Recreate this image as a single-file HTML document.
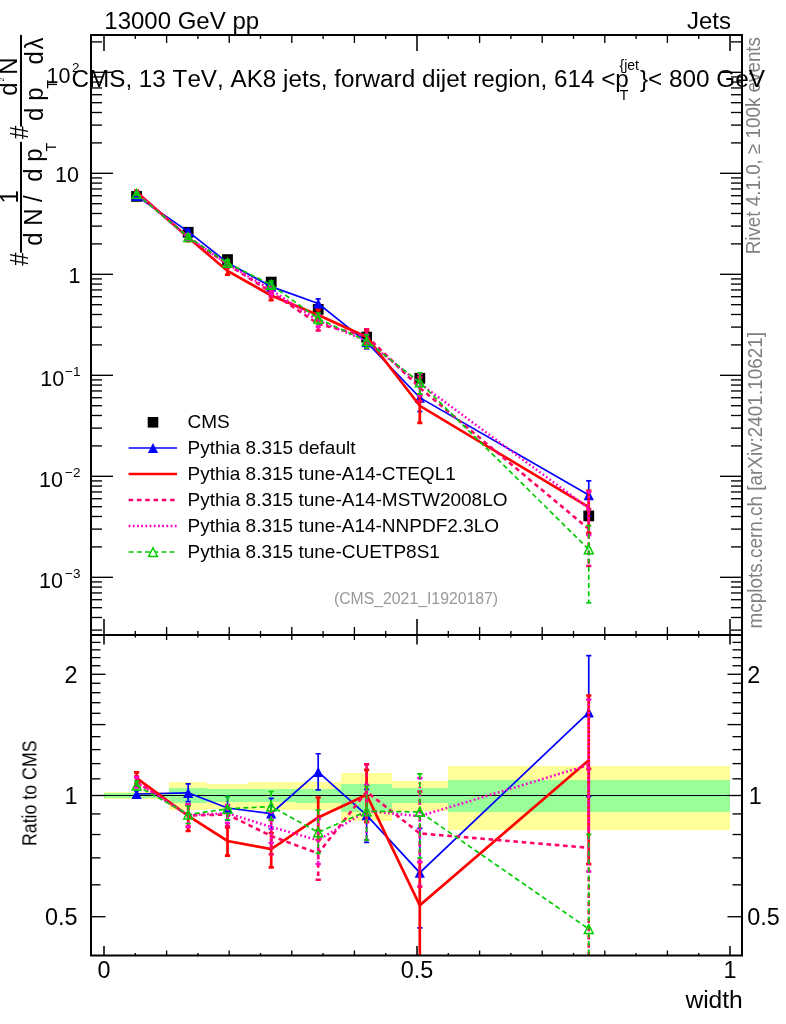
<!DOCTYPE html>
<html><head><meta charset="utf-8"><title>plot</title><style>html,body{margin:0;padding:0;background:#fff}svg{display:block}</style></head><body>
<svg width="786" height="1024" viewBox="0 0 786 1024" font-family="Liberation Sans, sans-serif" style="font-kerning:none">
<defs><clipPath id="c1"><rect x="91" y="35" width="651" height="600"/></clipPath><clipPath id="c2"><rect x="91" y="635" width="651" height="320.5"/></clipPath></defs>
<rect width="786" height="1024" fill="#fff"/>
<g opacity="0.999">
<g clip-path="url(#c2)" shape-rendering="crispEdges">
<rect x="104.00" y="791.60" width="64.80" height="7.50" fill="#ffff99"/>
<rect x="168.80" y="782.30" width="38.20" height="28.00" fill="#ffff99"/>
<rect x="207.00" y="783.60" width="41.00" height="25.20" fill="#ffff99"/>
<rect x="248.00" y="782.30" width="46.50" height="27.20" fill="#ffff99"/>
<rect x="294.50" y="782.30" width="46.50" height="27.40" fill="#ffff99"/>
<rect x="341.00" y="772.60" width="51.00" height="48.70" fill="#ffff99"/>
<rect x="392.00" y="781.20" width="55.70" height="29.60" fill="#ffff99"/>
<rect x="447.70" y="766.20" width="282.30" height="63.50" fill="#ffff99"/>
<rect x="104.00" y="793.20" width="64.80" height="4.60" fill="#99ff99"/>
<rect x="168.80" y="788.40" width="38.20" height="14.80" fill="#99ff99"/>
<rect x="207.00" y="789.20" width="41.00" height="13.20" fill="#99ff99"/>
<rect x="248.00" y="789.20" width="46.50" height="13.20" fill="#99ff99"/>
<rect x="294.50" y="788.60" width="46.50" height="14.10" fill="#99ff99"/>
<rect x="341.00" y="784.00" width="51.00" height="27.90" fill="#99ff99"/>
<rect x="392.00" y="787.70" width="55.70" height="15.60" fill="#99ff99"/>
<rect x="447.70" y="780.40" width="282.30" height="31.50" fill="#99ff99"/>
</g>
<line x1="91" y1="795.5" x2="742" y2="795.5" stroke="#000" stroke-width="1.1"/>
<g clip-path="url(#c1)">
<rect x="131.20" y="191.00" width="10.80" height="10.80" fill="#000"/>
<rect x="182.80" y="226.90" width="10.80" height="10.80" fill="#000"/>
<rect x="222.10" y="254.20" width="10.80" height="10.80" fill="#000"/>
<rect x="265.80" y="276.70" width="10.80" height="10.80" fill="#000"/>
<rect x="312.80" y="304.00" width="10.80" height="10.80" fill="#000"/>
<rect x="361.20" y="331.70" width="10.80" height="10.80" fill="#000"/>
<rect x="414.40" y="372.90" width="10.80" height="10.80" fill="#000"/>
<rect x="583.35" y="510.50" width="10.80" height="10.80" fill="#000"/>
</g>
<g clip-path="url(#c1)" fill="none" stroke="#0000ff" stroke-width="1.7">
<polyline points="136.60,196.02 188.20,231.62 227.50,262.74 271.20,286.61 318.20,303.48 366.60,342.04 419.80,397.66 588.75,495.03" stroke-linejoin="miter"/>
<line x1="136.60" y1="195.27" x2="136.60" y2="196.78"/>
<line x1="134.00" y1="195.27" x2="139.20" y2="195.27"/>
<line x1="134.00" y1="196.78" x2="139.20" y2="196.78"/>
<line x1="188.20" y1="229.39" x2="188.20" y2="233.86"/>
<line x1="185.60" y1="229.39" x2="190.80" y2="229.39"/>
<line x1="185.60" y1="233.86" x2="190.80" y2="233.86"/>
<line x1="227.50" y1="259.83" x2="227.50" y2="265.79"/>
<line x1="224.90" y1="259.83" x2="230.10" y2="259.83"/>
<line x1="224.90" y1="265.79" x2="230.10" y2="265.79"/>
<line x1="271.20" y1="282.80" x2="271.20" y2="290.50"/>
<line x1="268.60" y1="282.80" x2="273.80" y2="282.80"/>
<line x1="268.60" y1="290.50" x2="273.80" y2="290.50"/>
<line x1="318.20" y1="298.93" x2="318.20" y2="307.97"/>
<line x1="315.60" y1="298.93" x2="320.80" y2="298.93"/>
<line x1="315.60" y1="307.97" x2="320.80" y2="307.97"/>
<line x1="366.60" y1="335.57" x2="366.60" y2="348.89"/>
<line x1="364.00" y1="335.57" x2="369.20" y2="335.57"/>
<line x1="364.00" y1="348.89" x2="369.20" y2="348.89"/>
<line x1="419.80" y1="386.55" x2="419.80" y2="411.48"/>
<line x1="417.20" y1="386.55" x2="422.40" y2="386.55"/>
<line x1="417.20" y1="411.48" x2="422.40" y2="411.48"/>
<line x1="588.75" y1="480.81" x2="588.75" y2="516.20"/>
<line x1="586.15" y1="480.81" x2="591.35" y2="480.81"/>
<line x1="586.15" y1="516.20" x2="591.35" y2="516.20"/>
</g>
<g clip-path="url(#c1)">
<polygon points="131.50,201.12 141.70,201.12 136.60,190.92" fill="#0000ff"/>
<polygon points="183.10,236.72 193.30,236.72 188.20,226.52" fill="#0000ff"/>
<polygon points="222.40,267.84 232.60,267.84 227.50,257.64" fill="#0000ff"/>
<polygon points="266.10,291.71 276.30,291.71 271.20,281.51" fill="#0000ff"/>
<polygon points="313.10,308.58 323.30,308.58 318.20,298.38" fill="#0000ff"/>
<polygon points="361.50,347.14 371.70,347.14 366.60,336.94" fill="#0000ff"/>
<polygon points="414.70,402.76 424.90,402.76 419.80,392.56" fill="#0000ff"/>
<polygon points="583.65,500.13 593.85,500.13 588.75,489.93" fill="#0000ff"/>
</g>
<g clip-path="url(#c1)" fill="none" stroke="#ff0000" stroke-width="2.7">
<polyline points="136.60,192.06 188.20,237.39 227.50,271.01 271.20,295.54 318.20,314.92 366.60,336.92 419.80,405.84 588.75,507.07" stroke-linejoin="miter"/>
<line x1="136.60" y1="190.61" x2="136.60" y2="193.57"/>
<line x1="134.00" y1="190.61" x2="139.20" y2="190.61"/>
<line x1="134.00" y1="193.57" x2="139.20" y2="193.57"/>
<line x1="188.20" y1="234.56" x2="188.20" y2="241.20"/>
<line x1="185.60" y1="234.56" x2="190.80" y2="234.56"/>
<line x1="185.60" y1="241.20" x2="190.80" y2="241.20"/>
<line x1="227.50" y1="267.63" x2="227.50" y2="274.70"/>
<line x1="224.90" y1="267.63" x2="230.10" y2="267.63"/>
<line x1="224.90" y1="274.70" x2="230.10" y2="274.70"/>
<line x1="271.20" y1="291.51" x2="271.20" y2="300.13"/>
<line x1="268.60" y1="291.51" x2="273.80" y2="291.51"/>
<line x1="268.60" y1="300.13" x2="273.80" y2="300.13"/>
<line x1="318.20" y1="309.90" x2="318.20" y2="320.56"/>
<line x1="315.60" y1="309.90" x2="320.80" y2="309.90"/>
<line x1="315.60" y1="320.56" x2="320.80" y2="320.56"/>
<line x1="366.60" y1="330.65" x2="366.60" y2="343.75"/>
<line x1="364.00" y1="330.65" x2="369.20" y2="330.65"/>
<line x1="364.00" y1="343.75" x2="369.20" y2="343.75"/>
<line x1="419.80" y1="394.98" x2="419.80" y2="422.89"/>
<line x1="417.20" y1="394.98" x2="422.40" y2="394.98"/>
<line x1="417.20" y1="422.89" x2="422.40" y2="422.89"/>
<line x1="588.75" y1="490.82" x2="588.75" y2="533.13"/>
<line x1="586.15" y1="490.82" x2="591.35" y2="490.82"/>
<line x1="586.15" y1="533.13" x2="591.35" y2="533.13"/>
</g>
<g clip-path="url(#c1)" fill="none" stroke="#ff0066" stroke-width="2.6">
<polyline points="136.60,192.89 188.20,237.32 227.50,264.37 271.20,292.26 318.20,323.92 366.60,336.15 419.80,387.81 588.75,529.02" stroke-dasharray="4.6 3.7" stroke-linejoin="miter"/>
<line x1="136.60" y1="191.63" x2="136.60" y2="194.14" stroke-dasharray="4.6 3.7"/>
<line x1="134.00" y1="191.63" x2="139.20" y2="191.63"/>
<line x1="134.00" y1="194.14" x2="139.20" y2="194.14"/>
<line x1="188.20" y1="234.68" x2="188.20" y2="240.20" stroke-dasharray="4.6 3.7"/>
<line x1="185.60" y1="234.68" x2="190.80" y2="234.68"/>
<line x1="185.60" y1="240.20" x2="190.80" y2="240.20"/>
<line x1="227.50" y1="262.11" x2="227.50" y2="267.35" stroke-dasharray="4.6 3.7"/>
<line x1="224.90" y1="262.11" x2="230.10" y2="262.11"/>
<line x1="224.90" y1="267.35" x2="230.10" y2="267.35"/>
<line x1="271.20" y1="288.24" x2="271.20" y2="296.82" stroke-dasharray="4.6 3.7"/>
<line x1="268.60" y1="288.24" x2="273.80" y2="288.24"/>
<line x1="268.60" y1="296.82" x2="273.80" y2="296.82"/>
<line x1="318.20" y1="318.05" x2="318.20" y2="330.52" stroke-dasharray="4.6 3.7"/>
<line x1="315.60" y1="318.05" x2="320.80" y2="318.05"/>
<line x1="315.60" y1="330.52" x2="320.80" y2="330.52"/>
<line x1="366.60" y1="329.30" x2="366.60" y2="343.75" stroke-dasharray="4.6 3.7"/>
<line x1="364.00" y1="329.30" x2="369.20" y2="329.30"/>
<line x1="364.00" y1="343.75" x2="369.20" y2="343.75"/>
<line x1="419.80" y1="377.30" x2="419.80" y2="401.15" stroke-dasharray="4.6 3.7"/>
<line x1="417.20" y1="377.30" x2="422.40" y2="377.30"/>
<line x1="417.20" y1="401.15" x2="422.40" y2="401.15"/>
<line x1="588.75" y1="509.23" x2="588.75" y2="565.94" stroke-dasharray="4.6 3.7"/>
<line x1="586.15" y1="509.23" x2="591.35" y2="509.23"/>
<line x1="586.15" y1="565.94" x2="591.35" y2="565.94"/>
</g>
<g clip-path="url(#c1)" fill="none" stroke="#ff00cc" stroke-width="2.5">
<polyline points="136.60,193.14 188.20,237.19 227.50,264.04 271.20,290.00 318.20,320.61 366.60,340.99 419.80,383.49 588.75,508.25" stroke-dasharray="1.8 2.4" stroke-linejoin="miter"/>
<line x1="136.60" y1="191.89" x2="136.60" y2="194.39" stroke-dasharray="1.8 2.4"/>
<line x1="134.00" y1="191.89" x2="139.20" y2="191.89"/>
<line x1="134.00" y1="194.39" x2="139.20" y2="194.39"/>
<line x1="188.20" y1="234.56" x2="188.20" y2="240.08" stroke-dasharray="1.8 2.4"/>
<line x1="185.60" y1="234.56" x2="190.80" y2="234.56"/>
<line x1="185.60" y1="240.08" x2="190.80" y2="240.08"/>
<line x1="227.50" y1="261.98" x2="227.50" y2="266.50" stroke-dasharray="1.8 2.4"/>
<line x1="224.90" y1="261.98" x2="230.10" y2="261.98"/>
<line x1="224.90" y1="266.50" x2="230.10" y2="266.50"/>
<line x1="271.20" y1="286.24" x2="271.20" y2="294.01" stroke-dasharray="1.8 2.4"/>
<line x1="268.60" y1="286.24" x2="273.80" y2="286.24"/>
<line x1="268.60" y1="294.01" x2="273.80" y2="294.01"/>
<line x1="318.20" y1="315.29" x2="318.20" y2="326.58" stroke-dasharray="1.8 2.4"/>
<line x1="315.60" y1="315.29" x2="320.80" y2="315.29"/>
<line x1="315.60" y1="326.58" x2="320.80" y2="326.58"/>
<line x1="366.60" y1="334.47" x2="366.60" y2="348.26" stroke-dasharray="1.8 2.4"/>
<line x1="364.00" y1="334.47" x2="369.20" y2="334.47"/>
<line x1="364.00" y1="348.26" x2="369.20" y2="348.26"/>
<line x1="419.80" y1="373.91" x2="419.80" y2="394.98" stroke-dasharray="1.8 2.4"/>
<line x1="417.20" y1="373.91" x2="422.40" y2="373.91"/>
<line x1="417.20" y1="394.98" x2="422.40" y2="394.98"/>
<line x1="588.75" y1="491.80" x2="588.75" y2="534.99" stroke-dasharray="1.8 2.4"/>
<line x1="586.15" y1="491.80" x2="591.35" y2="491.80"/>
<line x1="586.15" y1="534.99" x2="591.35" y2="534.99"/>
</g>
<g clip-path="url(#c1)" fill="none" stroke="#00cc00" stroke-width="1.7">
<polyline points="136.60,193.89 188.20,237.07 227.50,262.94 271.20,284.86 318.20,318.63 366.60,341.06 419.80,382.41 588.75,549.38" stroke-dasharray="5 3.2" stroke-linejoin="miter"/>
<line x1="136.60" y1="192.76" x2="136.60" y2="195.02" stroke-dasharray="5 3.2"/>
<line x1="134.00" y1="192.76" x2="139.20" y2="192.76"/>
<line x1="134.00" y1="195.02" x2="139.20" y2="195.02"/>
<line x1="188.20" y1="234.93" x2="188.20" y2="239.32" stroke-dasharray="5 3.2"/>
<line x1="185.60" y1="234.93" x2="190.80" y2="234.93"/>
<line x1="185.60" y1="239.32" x2="190.80" y2="239.32"/>
<line x1="227.50" y1="259.83" x2="227.50" y2="265.69" stroke-dasharray="5 3.2"/>
<line x1="224.90" y1="259.83" x2="230.10" y2="259.83"/>
<line x1="224.90" y1="265.69" x2="230.10" y2="265.69"/>
<line x1="271.20" y1="281.10" x2="271.20" y2="288.19" stroke-dasharray="5 3.2"/>
<line x1="268.60" y1="281.10" x2="273.80" y2="281.10"/>
<line x1="268.60" y1="288.19" x2="273.80" y2="288.19"/>
<line x1="318.20" y1="313.04" x2="318.20" y2="323.92" stroke-dasharray="5 3.2"/>
<line x1="315.60" y1="313.04" x2="320.80" y2="313.04"/>
<line x1="315.60" y1="323.92" x2="320.80" y2="323.92"/>
<line x1="366.60" y1="334.72" x2="366.60" y2="348.31" stroke-dasharray="5 3.2"/>
<line x1="364.00" y1="334.72" x2="369.20" y2="334.72"/>
<line x1="364.00" y1="348.31" x2="369.20" y2="348.31"/>
<line x1="419.80" y1="372.88" x2="419.80" y2="393.98" stroke-dasharray="5 3.2"/>
<line x1="417.20" y1="372.88" x2="422.40" y2="372.88"/>
<line x1="417.20" y1="393.98" x2="422.40" y2="393.98"/>
<line x1="588.75" y1="525.66" x2="588.75" y2="602.80" stroke-dasharray="5 3.2"/>
<line x1="586.15" y1="525.66" x2="591.35" y2="525.66"/>
<line x1="586.15" y1="602.80" x2="591.35" y2="602.80"/>
</g>
<g clip-path="url(#c1)">
<polygon points="132.20,198.29 141.00,198.29 136.60,189.49" fill="none" stroke="#00cc00" stroke-width="1.5"/>
<polygon points="183.80,241.47 192.60,241.47 188.20,232.67" fill="none" stroke="#00cc00" stroke-width="1.5"/>
<polygon points="223.10,267.34 231.90,267.34 227.50,258.54" fill="none" stroke="#00cc00" stroke-width="1.5"/>
<polygon points="266.80,289.26 275.60,289.26 271.20,280.46" fill="none" stroke="#00cc00" stroke-width="1.5"/>
<polygon points="313.80,323.03 322.60,323.03 318.20,314.23" fill="none" stroke="#00cc00" stroke-width="1.5"/>
<polygon points="362.20,345.46 371.00,345.46 366.60,336.66" fill="none" stroke="#00cc00" stroke-width="1.5"/>
<polygon points="415.40,386.81 424.20,386.81 419.80,378.01" fill="none" stroke="#00cc00" stroke-width="1.5"/>
<polygon points="584.35,553.78 593.15,553.78 588.75,544.98" fill="none" stroke="#00cc00" stroke-width="1.5"/>
</g>
<g clip-path="url(#c2)" fill="none" stroke="#0000ff" stroke-width="1.7">
<polyline points="136.60,794.00 188.20,792.80 227.50,808.00 271.20,813.50 318.20,771.90 366.60,815.20 419.80,872.70 588.75,712.30" stroke-linejoin="miter"/>
<line x1="136.60" y1="791.00" x2="136.60" y2="797.00"/>
<line x1="134.00" y1="791.00" x2="139.20" y2="791.00"/>
<line x1="134.00" y1="797.00" x2="139.20" y2="797.00"/>
<line x1="188.20" y1="783.90" x2="188.20" y2="801.70"/>
<line x1="185.60" y1="783.90" x2="190.80" y2="783.90"/>
<line x1="185.60" y1="801.70" x2="190.80" y2="801.70"/>
<line x1="227.50" y1="796.40" x2="227.50" y2="820.20"/>
<line x1="224.90" y1="796.40" x2="230.10" y2="796.40"/>
<line x1="224.90" y1="820.20" x2="230.10" y2="820.20"/>
<line x1="271.20" y1="798.30" x2="271.20" y2="829.00"/>
<line x1="268.60" y1="798.30" x2="273.80" y2="798.30"/>
<line x1="268.60" y1="829.00" x2="273.80" y2="829.00"/>
<line x1="318.20" y1="753.75" x2="318.20" y2="789.80"/>
<line x1="315.60" y1="753.75" x2="320.80" y2="753.75"/>
<line x1="315.60" y1="789.80" x2="320.80" y2="789.80"/>
<line x1="366.60" y1="789.40" x2="366.60" y2="842.50"/>
<line x1="364.00" y1="789.40" x2="369.20" y2="789.40"/>
<line x1="364.00" y1="842.50" x2="369.20" y2="842.50"/>
<line x1="419.80" y1="828.40" x2="419.80" y2="927.80"/>
<line x1="417.20" y1="828.40" x2="422.40" y2="828.40"/>
<line x1="417.20" y1="927.80" x2="422.40" y2="927.80"/>
<line x1="588.75" y1="655.60" x2="588.75" y2="796.70"/>
<line x1="586.15" y1="655.60" x2="591.35" y2="655.60"/>
<line x1="586.15" y1="796.70" x2="591.35" y2="796.70"/>
</g>
<g clip-path="url(#c2)">
<polygon points="131.50,799.10 141.70,799.10 136.60,788.90" fill="#0000ff"/>
<polygon points="183.10,797.90 193.30,797.90 188.20,787.70" fill="#0000ff"/>
<polygon points="222.40,813.10 232.60,813.10 227.50,802.90" fill="#0000ff"/>
<polygon points="266.10,818.60 276.30,818.60 271.20,808.40" fill="#0000ff"/>
<polygon points="313.10,777.00 323.30,777.00 318.20,766.80" fill="#0000ff"/>
<polygon points="361.50,820.30 371.70,820.30 366.60,810.10" fill="#0000ff"/>
<polygon points="414.70,877.80 424.90,877.80 419.80,867.60" fill="#0000ff"/>
<polygon points="583.65,717.40 593.85,717.40 588.75,707.20" fill="#0000ff"/>
</g>
<g clip-path="url(#c2)" fill="none" stroke="#ff0000" stroke-width="2.7">
<polyline points="136.60,778.20 188.20,815.80 227.50,841.00 271.20,849.10 318.20,817.50 366.60,794.80 419.80,905.30 588.75,760.30" stroke-linejoin="miter"/>
<line x1="136.60" y1="772.40" x2="136.60" y2="784.20"/>
<line x1="134.00" y1="772.40" x2="139.20" y2="772.40"/>
<line x1="134.00" y1="784.20" x2="139.20" y2="784.20"/>
<line x1="188.20" y1="804.50" x2="188.20" y2="831.00"/>
<line x1="185.60" y1="804.50" x2="190.80" y2="804.50"/>
<line x1="185.60" y1="831.00" x2="190.80" y2="831.00"/>
<line x1="227.50" y1="827.50" x2="227.50" y2="855.70"/>
<line x1="224.90" y1="827.50" x2="230.10" y2="827.50"/>
<line x1="224.90" y1="855.70" x2="230.10" y2="855.70"/>
<line x1="271.20" y1="833.00" x2="271.20" y2="867.40"/>
<line x1="268.60" y1="833.00" x2="273.80" y2="833.00"/>
<line x1="268.60" y1="867.40" x2="273.80" y2="867.40"/>
<line x1="318.20" y1="797.50" x2="318.20" y2="840.00"/>
<line x1="315.60" y1="797.50" x2="320.80" y2="797.50"/>
<line x1="315.60" y1="840.00" x2="320.80" y2="840.00"/>
<line x1="366.60" y1="769.80" x2="366.60" y2="822.00"/>
<line x1="364.00" y1="769.80" x2="369.20" y2="769.80"/>
<line x1="364.00" y1="822.00" x2="369.20" y2="822.00"/>
<line x1="419.80" y1="862.00" x2="419.80" y2="973.30"/>
<line x1="417.20" y1="862.00" x2="422.40" y2="862.00"/>
<line x1="417.20" y1="973.30" x2="422.40" y2="973.30"/>
<line x1="588.75" y1="695.50" x2="588.75" y2="864.20"/>
<line x1="586.15" y1="695.50" x2="591.35" y2="695.50"/>
<line x1="586.15" y1="864.20" x2="591.35" y2="864.20"/>
</g>
<g clip-path="url(#c2)" fill="none" stroke="#ff0066" stroke-width="2.6">
<polyline points="136.60,781.50 188.20,815.50 227.50,814.50 271.20,836.00 318.20,853.40 366.60,791.70 419.80,833.40 588.75,847.80" stroke-dasharray="4.6 3.7" stroke-linejoin="miter"/>
<line x1="136.60" y1="776.50" x2="136.60" y2="786.50" stroke-dasharray="4.6 3.7"/>
<line x1="134.00" y1="776.50" x2="139.20" y2="776.50"/>
<line x1="134.00" y1="786.50" x2="139.20" y2="786.50"/>
<line x1="188.20" y1="805.00" x2="188.20" y2="827.00" stroke-dasharray="4.6 3.7"/>
<line x1="185.60" y1="805.00" x2="190.80" y2="805.00"/>
<line x1="185.60" y1="827.00" x2="190.80" y2="827.00"/>
<line x1="227.50" y1="805.50" x2="227.50" y2="826.40" stroke-dasharray="4.6 3.7"/>
<line x1="224.90" y1="805.50" x2="230.10" y2="805.50"/>
<line x1="224.90" y1="826.40" x2="230.10" y2="826.40"/>
<line x1="271.20" y1="820.00" x2="271.20" y2="854.20" stroke-dasharray="4.6 3.7"/>
<line x1="268.60" y1="820.00" x2="273.80" y2="820.00"/>
<line x1="268.60" y1="854.20" x2="273.80" y2="854.20"/>
<line x1="318.20" y1="830.00" x2="318.20" y2="879.70" stroke-dasharray="4.6 3.7"/>
<line x1="315.60" y1="830.00" x2="320.80" y2="830.00"/>
<line x1="315.60" y1="879.70" x2="320.80" y2="879.70"/>
<line x1="366.60" y1="764.40" x2="366.60" y2="822.00" stroke-dasharray="4.6 3.7"/>
<line x1="364.00" y1="764.40" x2="369.20" y2="764.40"/>
<line x1="364.00" y1="822.00" x2="369.20" y2="822.00"/>
<line x1="419.80" y1="791.50" x2="419.80" y2="886.60" stroke-dasharray="4.6 3.7"/>
<line x1="417.20" y1="791.50" x2="422.40" y2="791.50"/>
<line x1="417.20" y1="886.60" x2="422.40" y2="886.60"/>
<line x1="588.75" y1="768.90" x2="588.75" y2="995.00" stroke-dasharray="4.6 3.7"/>
<line x1="586.15" y1="768.90" x2="591.35" y2="768.90"/>
<line x1="586.15" y1="995.00" x2="591.35" y2="995.00"/>
</g>
<g clip-path="url(#c2)" fill="none" stroke="#ff00cc" stroke-width="2.5">
<polyline points="136.60,782.50 188.20,815.00 227.50,813.20 271.20,827.00 318.20,840.20 366.60,811.00 419.80,816.20 588.75,765.00" stroke-dasharray="1.8 2.4" stroke-linejoin="miter"/>
<line x1="136.60" y1="777.50" x2="136.60" y2="787.50" stroke-dasharray="1.8 2.4"/>
<line x1="134.00" y1="777.50" x2="139.20" y2="777.50"/>
<line x1="134.00" y1="787.50" x2="139.20" y2="787.50"/>
<line x1="188.20" y1="804.50" x2="188.20" y2="826.50" stroke-dasharray="1.8 2.4"/>
<line x1="185.60" y1="804.50" x2="190.80" y2="804.50"/>
<line x1="185.60" y1="826.50" x2="190.80" y2="826.50"/>
<line x1="227.50" y1="805.00" x2="227.50" y2="823.00" stroke-dasharray="1.8 2.4"/>
<line x1="224.90" y1="805.00" x2="230.10" y2="805.00"/>
<line x1="224.90" y1="823.00" x2="230.10" y2="823.00"/>
<line x1="271.20" y1="812.00" x2="271.20" y2="843.00" stroke-dasharray="1.8 2.4"/>
<line x1="268.60" y1="812.00" x2="273.80" y2="812.00"/>
<line x1="268.60" y1="843.00" x2="273.80" y2="843.00"/>
<line x1="318.20" y1="819.00" x2="318.20" y2="864.00" stroke-dasharray="1.8 2.4"/>
<line x1="315.60" y1="819.00" x2="320.80" y2="819.00"/>
<line x1="315.60" y1="864.00" x2="320.80" y2="864.00"/>
<line x1="366.60" y1="785.00" x2="366.60" y2="840.00" stroke-dasharray="1.8 2.4"/>
<line x1="364.00" y1="785.00" x2="369.20" y2="785.00"/>
<line x1="364.00" y1="840.00" x2="369.20" y2="840.00"/>
<line x1="419.80" y1="778.00" x2="419.80" y2="862.00" stroke-dasharray="1.8 2.4"/>
<line x1="417.20" y1="778.00" x2="422.40" y2="778.00"/>
<line x1="417.20" y1="862.00" x2="422.40" y2="862.00"/>
<line x1="588.75" y1="699.40" x2="588.75" y2="871.60" stroke-dasharray="1.8 2.4"/>
<line x1="586.15" y1="699.40" x2="591.35" y2="699.40"/>
<line x1="586.15" y1="871.60" x2="591.35" y2="871.60"/>
</g>
<g clip-path="url(#c2)" fill="none" stroke="#00cc00" stroke-width="1.7">
<polyline points="136.60,785.50 188.20,814.50 227.50,808.80 271.20,806.50 318.20,832.30 366.60,811.30 419.80,811.90 588.75,929.00" stroke-dasharray="5 3.2" stroke-linejoin="miter"/>
<line x1="136.60" y1="781.00" x2="136.60" y2="790.00" stroke-dasharray="5 3.2"/>
<line x1="134.00" y1="781.00" x2="139.20" y2="781.00"/>
<line x1="134.00" y1="790.00" x2="139.20" y2="790.00"/>
<line x1="188.20" y1="806.00" x2="188.20" y2="823.50" stroke-dasharray="5 3.2"/>
<line x1="185.60" y1="806.00" x2="190.80" y2="806.00"/>
<line x1="185.60" y1="823.50" x2="190.80" y2="823.50"/>
<line x1="227.50" y1="796.40" x2="227.50" y2="819.80" stroke-dasharray="5 3.2"/>
<line x1="224.90" y1="796.40" x2="230.10" y2="796.40"/>
<line x1="224.90" y1="819.80" x2="230.10" y2="819.80"/>
<line x1="271.20" y1="791.50" x2="271.20" y2="819.80" stroke-dasharray="5 3.2"/>
<line x1="268.60" y1="791.50" x2="273.80" y2="791.50"/>
<line x1="268.60" y1="819.80" x2="273.80" y2="819.80"/>
<line x1="318.20" y1="810.00" x2="318.20" y2="853.40" stroke-dasharray="5 3.2"/>
<line x1="315.60" y1="810.00" x2="320.80" y2="810.00"/>
<line x1="315.60" y1="853.40" x2="320.80" y2="853.40"/>
<line x1="366.60" y1="786.00" x2="366.60" y2="840.20" stroke-dasharray="5 3.2"/>
<line x1="364.00" y1="786.00" x2="369.20" y2="786.00"/>
<line x1="364.00" y1="840.20" x2="369.20" y2="840.20"/>
<line x1="419.80" y1="773.90" x2="419.80" y2="858.00" stroke-dasharray="5 3.2"/>
<line x1="417.20" y1="773.90" x2="422.40" y2="773.90"/>
<line x1="417.20" y1="858.00" x2="422.40" y2="858.00"/>
<line x1="588.75" y1="834.40" x2="588.75" y2="1142.00" stroke-dasharray="5 3.2"/>
<line x1="586.15" y1="834.40" x2="591.35" y2="834.40"/>
<line x1="586.15" y1="1142.00" x2="591.35" y2="1142.00"/>
</g>
<g clip-path="url(#c2)">
<polygon points="132.20,789.90 141.00,789.90 136.60,781.10" fill="none" stroke="#00cc00" stroke-width="1.5"/>
<polygon points="183.80,818.90 192.60,818.90 188.20,810.10" fill="none" stroke="#00cc00" stroke-width="1.5"/>
<polygon points="223.10,813.20 231.90,813.20 227.50,804.40" fill="none" stroke="#00cc00" stroke-width="1.5"/>
<polygon points="266.80,810.90 275.60,810.90 271.20,802.10" fill="none" stroke="#00cc00" stroke-width="1.5"/>
<polygon points="313.80,836.70 322.60,836.70 318.20,827.90" fill="none" stroke="#00cc00" stroke-width="1.5"/>
<polygon points="362.20,815.70 371.00,815.70 366.60,806.90" fill="none" stroke="#00cc00" stroke-width="1.5"/>
<polygon points="415.40,816.30 424.20,816.30 419.80,807.50" fill="none" stroke="#00cc00" stroke-width="1.5"/>
<polygon points="584.35,933.40 593.15,933.40 588.75,924.60" fill="none" stroke="#00cc00" stroke-width="1.5"/>
</g>
<g stroke="#000" stroke-width="1.35" fill="none">
<line x1="104.00" y1="635.00" x2="104.00" y2="619.00" stroke-width="1.55"/>
<line x1="135.30" y1="635.00" x2="135.30" y2="631.00"/>
<line x1="166.60" y1="635.00" x2="166.60" y2="627.00"/>
<line x1="197.90" y1="635.00" x2="197.90" y2="631.00"/>
<line x1="229.20" y1="635.00" x2="229.20" y2="627.00"/>
<line x1="260.50" y1="635.00" x2="260.50" y2="631.00"/>
<line x1="291.80" y1="635.00" x2="291.80" y2="627.00"/>
<line x1="323.10" y1="635.00" x2="323.10" y2="631.00"/>
<line x1="354.40" y1="635.00" x2="354.40" y2="627.00"/>
<line x1="385.70" y1="635.00" x2="385.70" y2="631.00"/>
<line x1="417.00" y1="635.00" x2="417.00" y2="619.00" stroke-width="1.55"/>
<line x1="448.30" y1="635.00" x2="448.30" y2="631.00"/>
<line x1="479.60" y1="635.00" x2="479.60" y2="627.00"/>
<line x1="510.90" y1="635.00" x2="510.90" y2="631.00"/>
<line x1="542.20" y1="635.00" x2="542.20" y2="627.00"/>
<line x1="573.50" y1="635.00" x2="573.50" y2="631.00"/>
<line x1="604.80" y1="635.00" x2="604.80" y2="627.00"/>
<line x1="636.10" y1="635.00" x2="636.10" y2="631.00"/>
<line x1="667.40" y1="635.00" x2="667.40" y2="627.00"/>
<line x1="698.70" y1="635.00" x2="698.70" y2="631.00"/>
<line x1="730.00" y1="635.00" x2="730.00" y2="619.00" stroke-width="1.55"/>
<line x1="104.00" y1="35.00" x2="104.00" y2="51.00" stroke-width="1.55"/>
<line x1="135.30" y1="35.00" x2="135.30" y2="39.00"/>
<line x1="166.60" y1="35.00" x2="166.60" y2="43.00"/>
<line x1="197.90" y1="35.00" x2="197.90" y2="39.00"/>
<line x1="229.20" y1="35.00" x2="229.20" y2="43.00"/>
<line x1="260.50" y1="35.00" x2="260.50" y2="39.00"/>
<line x1="291.80" y1="35.00" x2="291.80" y2="43.00"/>
<line x1="323.10" y1="35.00" x2="323.10" y2="39.00"/>
<line x1="354.40" y1="35.00" x2="354.40" y2="43.00"/>
<line x1="385.70" y1="35.00" x2="385.70" y2="39.00"/>
<line x1="417.00" y1="35.00" x2="417.00" y2="51.00" stroke-width="1.55"/>
<line x1="448.30" y1="35.00" x2="448.30" y2="39.00"/>
<line x1="479.60" y1="35.00" x2="479.60" y2="43.00"/>
<line x1="510.90" y1="35.00" x2="510.90" y2="39.00"/>
<line x1="542.20" y1="35.00" x2="542.20" y2="43.00"/>
<line x1="573.50" y1="35.00" x2="573.50" y2="39.00"/>
<line x1="604.80" y1="35.00" x2="604.80" y2="43.00"/>
<line x1="636.10" y1="35.00" x2="636.10" y2="39.00"/>
<line x1="667.40" y1="35.00" x2="667.40" y2="43.00"/>
<line x1="698.70" y1="35.00" x2="698.70" y2="39.00"/>
<line x1="730.00" y1="35.00" x2="730.00" y2="51.00" stroke-width="1.55"/>
<line x1="104.00" y1="955.50" x2="104.00" y2="946.00" stroke-width="1.55"/>
<line x1="135.30" y1="955.50" x2="135.30" y2="953.00"/>
<line x1="166.60" y1="955.50" x2="166.60" y2="950.50"/>
<line x1="197.90" y1="955.50" x2="197.90" y2="953.00"/>
<line x1="229.20" y1="955.50" x2="229.20" y2="950.50"/>
<line x1="260.50" y1="955.50" x2="260.50" y2="953.00"/>
<line x1="291.80" y1="955.50" x2="291.80" y2="950.50"/>
<line x1="323.10" y1="955.50" x2="323.10" y2="953.00"/>
<line x1="354.40" y1="955.50" x2="354.40" y2="950.50"/>
<line x1="385.70" y1="955.50" x2="385.70" y2="953.00"/>
<line x1="417.00" y1="955.50" x2="417.00" y2="946.00" stroke-width="1.55"/>
<line x1="448.30" y1="955.50" x2="448.30" y2="953.00"/>
<line x1="479.60" y1="955.50" x2="479.60" y2="950.50"/>
<line x1="510.90" y1="955.50" x2="510.90" y2="953.00"/>
<line x1="542.20" y1="955.50" x2="542.20" y2="950.50"/>
<line x1="573.50" y1="955.50" x2="573.50" y2="953.00"/>
<line x1="604.80" y1="955.50" x2="604.80" y2="950.50"/>
<line x1="636.10" y1="955.50" x2="636.10" y2="953.00"/>
<line x1="667.40" y1="955.50" x2="667.40" y2="950.50"/>
<line x1="698.70" y1="955.50" x2="698.70" y2="953.00"/>
<line x1="730.00" y1="955.50" x2="730.00" y2="946.00" stroke-width="1.55"/>
<line x1="104.00" y1="635.00" x2="104.00" y2="644.50" stroke-width="1.55"/>
<line x1="135.30" y1="635.00" x2="135.30" y2="637.50"/>
<line x1="166.60" y1="635.00" x2="166.60" y2="640.00"/>
<line x1="197.90" y1="635.00" x2="197.90" y2="637.50"/>
<line x1="229.20" y1="635.00" x2="229.20" y2="640.00"/>
<line x1="260.50" y1="635.00" x2="260.50" y2="637.50"/>
<line x1="291.80" y1="635.00" x2="291.80" y2="640.00"/>
<line x1="323.10" y1="635.00" x2="323.10" y2="637.50"/>
<line x1="354.40" y1="635.00" x2="354.40" y2="640.00"/>
<line x1="385.70" y1="635.00" x2="385.70" y2="637.50"/>
<line x1="417.00" y1="635.00" x2="417.00" y2="644.50" stroke-width="1.55"/>
<line x1="448.30" y1="635.00" x2="448.30" y2="637.50"/>
<line x1="479.60" y1="635.00" x2="479.60" y2="640.00"/>
<line x1="510.90" y1="635.00" x2="510.90" y2="637.50"/>
<line x1="542.20" y1="635.00" x2="542.20" y2="640.00"/>
<line x1="573.50" y1="635.00" x2="573.50" y2="637.50"/>
<line x1="604.80" y1="635.00" x2="604.80" y2="640.00"/>
<line x1="636.10" y1="635.00" x2="636.10" y2="637.50"/>
<line x1="667.40" y1="635.00" x2="667.40" y2="640.00"/>
<line x1="698.70" y1="635.00" x2="698.70" y2="637.50"/>
<line x1="730.00" y1="635.00" x2="730.00" y2="644.50" stroke-width="1.55"/>
<line x1="91" y1="630.11" x2="102" y2="630.11"/>
<line x1="742" y1="630.11" x2="731" y2="630.11"/>
<line x1="91" y1="617.49" x2="102" y2="617.49"/>
<line x1="742" y1="617.49" x2="731" y2="617.49"/>
<line x1="91" y1="607.70" x2="102" y2="607.70"/>
<line x1="742" y1="607.70" x2="731" y2="607.70"/>
<line x1="91" y1="599.71" x2="102" y2="599.71"/>
<line x1="742" y1="599.71" x2="731" y2="599.71"/>
<line x1="91" y1="592.95" x2="102" y2="592.95"/>
<line x1="742" y1="592.95" x2="731" y2="592.95"/>
<line x1="91" y1="587.09" x2="102" y2="587.09"/>
<line x1="742" y1="587.09" x2="731" y2="587.09"/>
<line x1="91" y1="581.92" x2="102" y2="581.92"/>
<line x1="742" y1="581.92" x2="731" y2="581.92"/>
<line x1="91" y1="577.30" x2="113" y2="577.30"/>
<line x1="742" y1="577.30" x2="720" y2="577.30"/>
<line x1="91" y1="546.90" x2="102" y2="546.90"/>
<line x1="742" y1="546.90" x2="731" y2="546.90"/>
<line x1="91" y1="529.11" x2="102" y2="529.11"/>
<line x1="742" y1="529.11" x2="731" y2="529.11"/>
<line x1="91" y1="516.49" x2="102" y2="516.49"/>
<line x1="742" y1="516.49" x2="731" y2="516.49"/>
<line x1="91" y1="506.70" x2="102" y2="506.70"/>
<line x1="742" y1="506.70" x2="731" y2="506.70"/>
<line x1="91" y1="498.71" x2="102" y2="498.71"/>
<line x1="742" y1="498.71" x2="731" y2="498.71"/>
<line x1="91" y1="491.95" x2="102" y2="491.95"/>
<line x1="742" y1="491.95" x2="731" y2="491.95"/>
<line x1="91" y1="486.09" x2="102" y2="486.09"/>
<line x1="742" y1="486.09" x2="731" y2="486.09"/>
<line x1="91" y1="480.92" x2="102" y2="480.92"/>
<line x1="742" y1="480.92" x2="731" y2="480.92"/>
<line x1="91" y1="476.30" x2="113" y2="476.30"/>
<line x1="742" y1="476.30" x2="720" y2="476.30"/>
<line x1="91" y1="445.90" x2="102" y2="445.90"/>
<line x1="742" y1="445.90" x2="731" y2="445.90"/>
<line x1="91" y1="428.11" x2="102" y2="428.11"/>
<line x1="742" y1="428.11" x2="731" y2="428.11"/>
<line x1="91" y1="415.49" x2="102" y2="415.49"/>
<line x1="742" y1="415.49" x2="731" y2="415.49"/>
<line x1="91" y1="405.70" x2="102" y2="405.70"/>
<line x1="742" y1="405.70" x2="731" y2="405.70"/>
<line x1="91" y1="397.71" x2="102" y2="397.71"/>
<line x1="742" y1="397.71" x2="731" y2="397.71"/>
<line x1="91" y1="390.95" x2="102" y2="390.95"/>
<line x1="742" y1="390.95" x2="731" y2="390.95"/>
<line x1="91" y1="385.09" x2="102" y2="385.09"/>
<line x1="742" y1="385.09" x2="731" y2="385.09"/>
<line x1="91" y1="379.92" x2="102" y2="379.92"/>
<line x1="742" y1="379.92" x2="731" y2="379.92"/>
<line x1="91" y1="375.30" x2="113" y2="375.30"/>
<line x1="742" y1="375.30" x2="720" y2="375.30"/>
<line x1="91" y1="344.90" x2="102" y2="344.90"/>
<line x1="742" y1="344.90" x2="731" y2="344.90"/>
<line x1="91" y1="327.11" x2="102" y2="327.11"/>
<line x1="742" y1="327.11" x2="731" y2="327.11"/>
<line x1="91" y1="314.49" x2="102" y2="314.49"/>
<line x1="742" y1="314.49" x2="731" y2="314.49"/>
<line x1="91" y1="304.70" x2="102" y2="304.70"/>
<line x1="742" y1="304.70" x2="731" y2="304.70"/>
<line x1="91" y1="296.71" x2="102" y2="296.71"/>
<line x1="742" y1="296.71" x2="731" y2="296.71"/>
<line x1="91" y1="289.95" x2="102" y2="289.95"/>
<line x1="742" y1="289.95" x2="731" y2="289.95"/>
<line x1="91" y1="284.09" x2="102" y2="284.09"/>
<line x1="742" y1="284.09" x2="731" y2="284.09"/>
<line x1="91" y1="278.92" x2="102" y2="278.92"/>
<line x1="742" y1="278.92" x2="731" y2="278.92"/>
<line x1="91" y1="274.30" x2="113" y2="274.30"/>
<line x1="742" y1="274.30" x2="720" y2="274.30"/>
<line x1="91" y1="243.90" x2="102" y2="243.90"/>
<line x1="742" y1="243.90" x2="731" y2="243.90"/>
<line x1="91" y1="226.11" x2="102" y2="226.11"/>
<line x1="742" y1="226.11" x2="731" y2="226.11"/>
<line x1="91" y1="213.49" x2="102" y2="213.49"/>
<line x1="742" y1="213.49" x2="731" y2="213.49"/>
<line x1="91" y1="203.70" x2="102" y2="203.70"/>
<line x1="742" y1="203.70" x2="731" y2="203.70"/>
<line x1="91" y1="195.71" x2="102" y2="195.71"/>
<line x1="742" y1="195.71" x2="731" y2="195.71"/>
<line x1="91" y1="188.95" x2="102" y2="188.95"/>
<line x1="742" y1="188.95" x2="731" y2="188.95"/>
<line x1="91" y1="183.09" x2="102" y2="183.09"/>
<line x1="742" y1="183.09" x2="731" y2="183.09"/>
<line x1="91" y1="177.92" x2="102" y2="177.92"/>
<line x1="742" y1="177.92" x2="731" y2="177.92"/>
<line x1="91" y1="173.30" x2="113" y2="173.30"/>
<line x1="742" y1="173.30" x2="720" y2="173.30"/>
<line x1="91" y1="142.90" x2="102" y2="142.90"/>
<line x1="742" y1="142.90" x2="731" y2="142.90"/>
<line x1="91" y1="125.11" x2="102" y2="125.11"/>
<line x1="742" y1="125.11" x2="731" y2="125.11"/>
<line x1="91" y1="112.49" x2="102" y2="112.49"/>
<line x1="742" y1="112.49" x2="731" y2="112.49"/>
<line x1="91" y1="102.70" x2="102" y2="102.70"/>
<line x1="742" y1="102.70" x2="731" y2="102.70"/>
<line x1="91" y1="94.71" x2="102" y2="94.71"/>
<line x1="742" y1="94.71" x2="731" y2="94.71"/>
<line x1="91" y1="87.95" x2="102" y2="87.95"/>
<line x1="742" y1="87.95" x2="731" y2="87.95"/>
<line x1="91" y1="82.09" x2="102" y2="82.09"/>
<line x1="742" y1="82.09" x2="731" y2="82.09"/>
<line x1="91" y1="76.92" x2="102" y2="76.92"/>
<line x1="742" y1="76.92" x2="731" y2="76.92"/>
<line x1="91" y1="72.30" x2="113" y2="72.30"/>
<line x1="742" y1="72.30" x2="720" y2="72.30"/>
<line x1="91" y1="41.90" x2="102" y2="41.90"/>
<line x1="742" y1="41.90" x2="731" y2="41.90"/>
<line x1="91" y1="916.72" x2="105.5" y2="916.72"/>
<line x1="742" y1="916.72" x2="727.5" y2="916.72"/>
<line x1="91" y1="884.84" x2="100.5" y2="884.84"/>
<line x1="742" y1="884.84" x2="732.5" y2="884.84"/>
<line x1="91" y1="857.88" x2="100.5" y2="857.88"/>
<line x1="742" y1="857.88" x2="732.5" y2="857.88"/>
<line x1="91" y1="834.53" x2="100.5" y2="834.53"/>
<line x1="742" y1="834.53" x2="732.5" y2="834.53"/>
<line x1="91" y1="813.93" x2="100.5" y2="813.93"/>
<line x1="742" y1="813.93" x2="732.5" y2="813.93"/>
<line x1="91" y1="795.50" x2="105.5" y2="795.50"/>
<line x1="742" y1="795.50" x2="727.5" y2="795.50"/>
<line x1="91" y1="778.83" x2="100.5" y2="778.83"/>
<line x1="742" y1="778.83" x2="732.5" y2="778.83"/>
<line x1="91" y1="763.61" x2="100.5" y2="763.61"/>
<line x1="742" y1="763.61" x2="732.5" y2="763.61"/>
<line x1="91" y1="749.62" x2="100.5" y2="749.62"/>
<line x1="742" y1="749.62" x2="732.5" y2="749.62"/>
<line x1="91" y1="736.65" x2="100.5" y2="736.65"/>
<line x1="742" y1="736.65" x2="732.5" y2="736.65"/>
<line x1="91" y1="724.59" x2="105.5" y2="724.59"/>
<line x1="742" y1="724.59" x2="727.5" y2="724.59"/>
<line x1="91" y1="713.30" x2="100.5" y2="713.30"/>
<line x1="742" y1="713.30" x2="732.5" y2="713.30"/>
<line x1="91" y1="702.70" x2="100.5" y2="702.70"/>
<line x1="742" y1="702.70" x2="732.5" y2="702.70"/>
<line x1="91" y1="692.70" x2="100.5" y2="692.70"/>
<line x1="742" y1="692.70" x2="732.5" y2="692.70"/>
<line x1="91" y1="683.25" x2="100.5" y2="683.25"/>
<line x1="742" y1="683.25" x2="732.5" y2="683.25"/>
<line x1="91" y1="674.28" x2="105.5" y2="674.28"/>
<line x1="742" y1="674.28" x2="727.5" y2="674.28"/>
<line x1="91" y1="665.74" x2="100.5" y2="665.74"/>
<line x1="742" y1="665.74" x2="732.5" y2="665.74"/>
<line x1="91" y1="657.61" x2="100.5" y2="657.61"/>
<line x1="742" y1="657.61" x2="732.5" y2="657.61"/>
<line x1="91" y1="649.83" x2="100.5" y2="649.83"/>
<line x1="742" y1="649.83" x2="732.5" y2="649.83"/>
<line x1="91" y1="642.39" x2="100.5" y2="642.39"/>
<line x1="742" y1="642.39" x2="732.5" y2="642.39"/>
</g>
<g stroke="#000" stroke-width="2" fill="none">
<rect x="91" y="35" width="651" height="600"/>
<rect x="91" y="635" width="651" height="320.5"/>
</g>
<rect x="147.70" y="417.00" width="10.60" height="10.60" fill="#000"/>
<line x1="128.6" y1="448.00" x2="177" y2="448.00" stroke="#0000ff" stroke-width="1.7"/>
<polygon points="147.90,453.10 158.10,453.10 153.00,442.90" fill="#0000ff"/>
<line x1="128.6" y1="474.00" x2="177" y2="474.00" stroke="#ff0000" stroke-width="2.7"/>
<line x1="128.6" y1="500.00" x2="177" y2="500.00" stroke="#ff0066" stroke-width="2.6" stroke-dasharray="4.6 3.7"/>
<line x1="128.6" y1="526.00" x2="177" y2="526.00" stroke="#ff00cc" stroke-width="2.5" stroke-dasharray="1.8 2.4"/>
<line x1="128.6" y1="552.00" x2="177" y2="552.00" stroke="#00cc00" stroke-width="1.7" stroke-dasharray="5 3.2"/>
<polygon points="147.90,557.10 158.10,557.10 153.00,546.90" fill="#fff" stroke="none"/>
<polygon points="148.60,556.40 157.40,556.40 153.00,547.60" fill="none" stroke="#00cc00" stroke-width="1.5"/>
<text x="187.5" y="427.80" font-size="19">CMS</text>
<text x="187.5" y="453.50" font-size="19">Pythia 8.315 default</text>
<text x="187.5" y="479.50" font-size="19">Pythia 8.315 tune-A14-CTEQL1</text>
<text x="187.5" y="505.50" font-size="19">Pythia 8.315 tune-A14-MSTW2008LO</text>
<text x="187.5" y="531.50" font-size="19">Pythia 8.315 tune-A14-NNPDF2.3LO</text>
<text x="187.5" y="557.50" font-size="19">Pythia 8.315 tune-CUETP8S1</text>
<text transform="translate(760.2,254.3) rotate(-90)" font-size="19.8" fill="#808080" textLength="217.3" lengthAdjust="spacingAndGlyphs">Rivet 4.1.0, ≥ 100k events</text>
<text transform="translate(762.0,628.5) rotate(-90)" font-size="19.7" fill="#808080" textLength="296.5" lengthAdjust="spacingAndGlyphs">mcplots.cern.ch [arXiv:2401.10621]</text>
<text x="104.3" y="28.6" font-size="24">13000 GeV pp</text>
<text x="731" y="28.7" font-size="24" text-anchor="end">Jets</text>
<text x="71.5" y="86.9" font-size="24.25">CMS, 13 TeV, AK8 jets, forward dijet region, 614 &lt;p</text>
<text x="619.5" y="70" font-size="14">{jet</text>
<text x="619.5" y="99.5" font-size="14.5">T</text>
<text x="640" y="86.9" font-size="24" textLength="125" lengthAdjust="spacingAndGlyphs">}&lt; 800 GeV</text>
<text x="416" y="604.2" font-size="15.8" fill="#999" text-anchor="middle">(CMS_2021_I1920187)</text>
<text x="104.00" y="978" font-size="23.4" text-anchor="middle">0</text>
<text x="417.00" y="978" font-size="23.4" text-anchor="middle">0.5</text>
<text x="730.00" y="978" font-size="23.4" text-anchor="middle">1</text>
<text x="742.8" y="1008.4" font-size="24.6" text-anchor="end">width</text>
<text x="70.5" y="83.30" font-size="21.5" text-anchor="end">10</text>
<text x="72" y="71.80" font-size="13.5">2</text>
<text x="79" y="181.70" font-size="21.5" text-anchor="end">10</text>
<text x="80.5" y="282.70" font-size="21.5" text-anchor="end">1</text>
<text x="64.2" y="385.80" font-size="21.5" text-anchor="end">10</text>
<text x="80.5" y="376.30" font-size="13.5" text-anchor="end">−1</text>
<text x="63" y="486.80" font-size="21.5" text-anchor="end">10</text>
<text x="80.5" y="477.30" font-size="13.5" text-anchor="end">−2</text>
<text x="63" y="587.80" font-size="21.5" text-anchor="end">10</text>
<text x="80.5" y="578.30" font-size="13.5" text-anchor="end">−3</text>
<text x="77.5" y="682.98" font-size="23.4" text-anchor="end">2</text>
<text x="747.30" y="682.98" font-size="23.4">2</text>
<text x="77.5" y="804.20" font-size="23.4" text-anchor="end">1</text>
<text x="748.80" y="804.20" font-size="23.4">1</text>
<text x="77.5" y="925.42" font-size="23.4" text-anchor="end">0.5</text>
<text x="747.30" y="925.42" font-size="23.4">0.5</text>
<text transform="translate(36.4,846) rotate(-90)" font-size="19.8" textLength="105.5" lengthAdjust="spacingAndGlyphs">Ratio to CMS</text>
<g transform="translate(0,266) rotate(-90)">
<text transform="translate(0.3,28.1) scale(0.95,1)" font-size="25.2">#</text>
<rect x="13.2" y="20" width="111" height="2" fill="#000"/>
<text transform="translate(69.2,18.3) scale(0.95,1)" font-size="25.2" text-anchor="middle">1</text>
<text transform="translate(20.2,42.2) scale(0.95,1)" font-size="25.2">d</text>
<text transform="translate(40.2,42.2) scale(0.95,1)" font-size="25.2">N</text>
<text transform="translate(64,42.2) scale(0.95,1)" font-size="25.2">/</text>
<text transform="translate(84.2,42.2) scale(0.95,1)" font-size="25.2">d</text>
<text transform="translate(104.2,42.2) scale(0.95,1)" font-size="25.2">p</text>
<text transform="translate(114.6,55.5) scale(0.95,1)" font-size="15">T</text>
<text transform="translate(126.9,28.1) scale(0.95,1)" font-size="25.2">#</text>
<rect x="139.4" y="20" width="91.7" height="2" fill="#000"/>
<text transform="translate(170.3,17.2) scale(0.95,1)" font-size="25.2">d</text>
<text transform="translate(184.5,4.2) scale(0.95,1)" font-size="7">2</text>
<text transform="translate(191.3,17.2) scale(0.95,1)" font-size="25.2">N</text>
<text transform="translate(145,43.2) scale(0.95,1)" font-size="25.2">d</text>
<text transform="translate(165.2,43.2) scale(0.95,1)" font-size="25.2">p</text>
<text transform="translate(177.3,56.5) scale(0.95,1)" font-size="15">T</text>
<text transform="translate(201.5,43.2) scale(0.95,1)" font-size="25.2">d</text>
<text transform="translate(216.5,43.2) scale(0.95,1)" font-size="25.2">λ</text>
</g>
</g>
</svg>
</body></html>
